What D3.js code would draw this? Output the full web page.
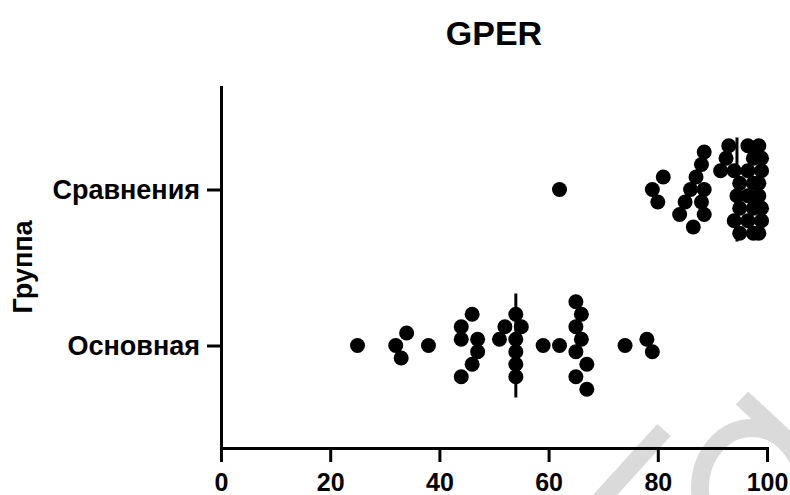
<!DOCTYPE html>
<html lang="ru">
<head>
    <meta charset="UTF-8">
    <title>GPER</title>
    <style>
        body {
            margin: 0;
            padding: 0;
            background-color: #fff;
            font-family: 'Liberation Sans', Arial, sans-serif;
        }
        .axis path,
        .axis line {
            stroke: #000;
            stroke-width: 3px;
        }
        .axis text {
            font-family: 'Liberation Sans', Arial, sans-serif;
            font-weight: bold;
            fill: #000;
        }
    </style>
</head>
<body>
    <div id="chart"></div>

    <script src="https://d3js.org/d3.v7.min.js"></script>
    <script>
        const width = 790;
        const height = 495;

        // groups, top to bottom
        const categories = ["Сравнения", "Основная"];
        const xTicks = [0, 20, 40, 60, 80, 100];

        // values (in the order they are stacked)
        const sravneniya = [62, 81, 79, 80,
            88.5, 88, 87, 88.5, 86, 85, 88, 84, 88.5, 86.5,
            93, 92.5, 91.5,
            94, 95, 94.5, 95, 94, 95,
            96.5, 97.5, 96.5, 97.5, 96.5, 97.5, 96.5, 97.5,
            99, 98.5, 99, 98.5, 99, 98.5, 99, 98.5];
        const osnovnaya = [25, 34, 32, 33, 38, 46, 44, 44, 47, 47, 46, 44,
            54, 52, 55, 51, 54, 54, 54, 54, 59, 62, 65, 66, 65, 66, 65, 67, 65, 67, 74, 78, 79];

        const groups = [
            { name: "Сравнения", values: sravneniya },
            { name: "Основная", values: osnovnaya }
        ];

        const svg = d3.select('#chart')
            .append('svg')
            .attr('width', width)
            .attr('height', height);

        // watermark remains in the bottom right corner
        const wm = svg.append('g')
            .attr('fill', 'none')
            .attr('stroke', '#dadada')
            .attr('stroke-width', 18);
        wm.append('line')
            .attr('x1', 596).attr('y1', 505)
            .attr('x2', 664).attr('y2', 430);
        wm.append('ellipse')
            .attr('cx', 752).attr('cy', 488)
            .attr('rx', 52).attr('ry', 60);
        wm.append('line')
            .attr('x1', 742).attr('y1', 398)
            .attr('x2', 800).attr('y2', 452);

        const x = d3.scaleLinear()
            .domain([0, 100])
            .range([221, 767]);

        const y = d3.scalePoint()
            .domain(categories)
            .range([87, 448])
            .padding(0.657);

        const r = 7.5;
        const spacing = 12.5;
        const maxRows = 8;

        // prism-like scatter: touching dots form a cluster and are
        // stacked on rows from top to bottom, wrapping when it gets full
        function swarm(values) {
            const pts = values.map((v, i) => ({ value: v, px: x(v), i: i }));
            const sorted = pts.slice().sort((a, b) => a.value - b.value);
            const clusters = [];
            let cur = [];
            sorted.forEach((p, k) => {
                if (k > 0 && p.px - sorted[k - 1].px >= spacing) {
                    clusters.push(cur);
                    cur = [];
                }
                cur.push(p);
            });
            clusters.push(cur);

            clusters.forEach(c => {
                c.sort((a, b) => a.i - b.i);
                const done = [];
                let row = 0;
                c.forEach((p, k) => {
                    const gap = rw => d3.min(done, q =>
                        Math.hypot(q.px - p.px, (q.row - rw) * spacing)) ?? Infinity;
                    if (k > 0) {
                        const tries = d3.range(maxRows).map(j => (row + j) % maxRows);
                        const ok = tries.find(rw => gap(rw) >= spacing - 0.01);
                        row = ok !== undefined ? ok : tries[d3.maxIndex(tries, gap)];
                    }
                    p.row = row;
                    done.push(p);
                });
                const nr = d3.max(c, p => p.row) + 1;
                c.forEach(p => { p.dy = (p.row - (nr - 1) / 2) * spacing; });
            });
            return pts;
        }

        // x axis
        svg.append('g')
            .attr('class', 'axis')
            .attr('transform', 'translate(0, 448)')
            .call(d3.axisBottom(x)
                .tickValues(xTicks)
                .tickSize(14)
                .tickSizeOuter(0)
                .tickPadding(11))
            .selectAll('text')
            .style('font-size', '25px');

        // y axis
        svg.append('g')
            .attr('class', 'axis')
            .attr('transform', 'translate(221, 0)')
            .call(d3.axisLeft(y)
                .tickSize(14)
                .tickSizeOuter(0)
                .tickPadding(7))
            .selectAll('text')
            .style('font-size', '27px');

        svg.selectAll('.axis .domain')
            .attr('stroke-linecap', 'square');

        // dots and median lines
        groups.forEach(g => {
            const cy = y(g.name);
            svg.append('g')
                .selectAll('circle')
                .data(swarm(g.values))
                .enter()
                .append('circle')
                .attr('cx', d => d.px)
                .attr('cy', d => cy + d.dy)
                .attr('r', r)
                .attr('fill', '#000');

            const med = d3.median(g.values);
            svg.append('line')
                .attr('x1', x(med)).attr('x2', x(med))
                .attr('y1', cy - 52).attr('y2', cy + 52)
                .attr('stroke', '#000')
                .attr('stroke-width', 3);
        });

        // title
        svg.append('text')
            .attr('x', 494)
            .attr('y', 45)
            .attr('text-anchor', 'middle')
            .style('font-size', '34px')
            .style('font-weight', 'bold')
            .text('GPER');

        // y axis title
        svg.append('text')
            .attr('transform', 'translate(32, 267) rotate(-90)')
            .attr('text-anchor', 'middle')
            .style('font-size', '27px')
            .style('font-weight', 'bold')
            .text('Группа');
    </script>
</body>
</html>
